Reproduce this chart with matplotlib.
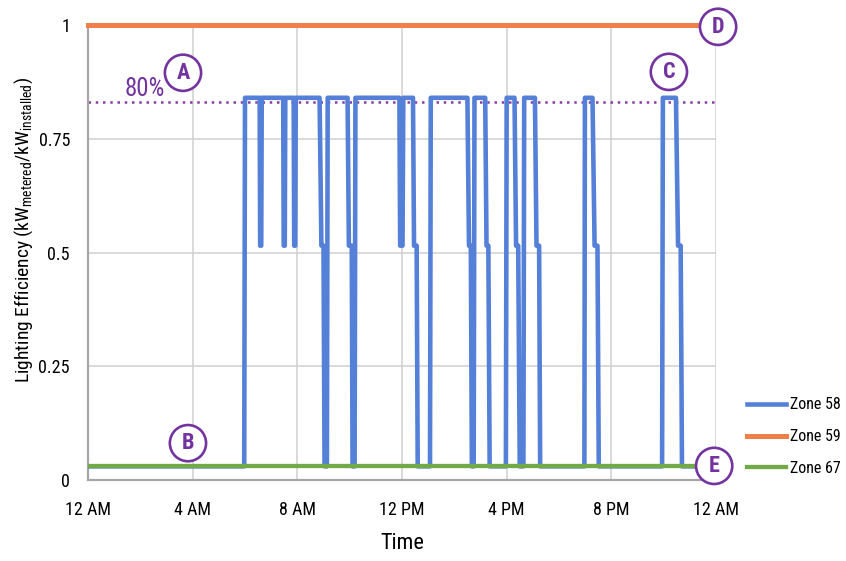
import numpy as np
import matplotlib
matplotlib.use("Agg")
import matplotlib.pyplot as plt
from matplotlib import font_manager

# pick a narrow sans font if one is installed
narrow = None
for wanted in ["Liberation Sans Narrow", "Roboto Condensed", "Open Sans Condensed",
               "Noto Sans Condensed", "DejaVu Sans Condensed"]:
    for f in font_manager.fontManager.ttflist:
        if wanted.lower() in (f.name + " " + str(f.stretch)).lower() or \
                wanted.lower().replace(" ", "") in f.fname.lower().replace("-", "").replace("_", ""):
            narrow = f
            break
    if narrow:
        break

if narrow is not None:
    plt.rcParams["font.family"] = [narrow.name, "DejaVu Sans"]
    plt.rcParams["font.stretch"] = narrow.stretch
else:
    plt.rcParams["font.family"] = ["Liberation Sans", "DejaVu Sans"]

# ---------------------------------------------------------------
# Data (hours since midnight, lighting efficiency)
# ---------------------------------------------------------------
HI, MID, LO = 0.84, 0.515, 0.03

zone58_t = [0, 5.97, 6.0,
            6.56, 6.58, 6.62, 6.64,
            7.46, 7.48, 7.52, 7.54,
            7.86, 7.88, 7.92, 7.94,
            8.85, 8.92, 9.0, 9.04, 9.13, 9.16,
            9.92, 9.97, 10.08, 10.11, 10.19, 10.22,
            11.9, 11.93, 12.02, 12.05,
            12.42, 12.46, 12.56, 12.6,
            13.07, 13.1,
            14.5, 14.56, 14.63, 14.67, 14.74, 14.77,
            15.18, 15.23, 15.3, 15.35,
            15.97, 16.0,
            16.3, 16.36, 16.44, 16.5, 16.64, 16.67,
            17.08, 17.14, 17.24, 17.28,
            18.97, 18.99,
            19.28, 19.36, 19.47, 19.52,
            21.94, 21.97,
            22.47, 22.55, 22.65, 22.7, 24]
zone58_v = [LO, LO, HI,
            HI, MID, MID, HI,
            HI, MID, MID, HI,
            HI, MID, MID, HI,
            HI, MID, MID, LO, LO, HI,
            HI, MID, MID, LO, LO, HI,
            HI, MID, MID, HI,
            HI, MID, MID, LO,
            LO, HI,
            HI, MID, MID, LO, LO, HI,
            HI, MID, MID, LO,
            LO, HI,
            HI, MID, MID, LO, LO, HI,
            HI, MID, MID, LO,
            LO, HI,
            HI, MID, MID, LO,
            LO, HI,
            HI, MID, MID, LO, LO]

zone59_t = [0, 24]
zone59_v = [1.0, 1.0]
zone67_t = [0, 24]
zone67_v = [0.03, 0.03]

target = 0.83
xticks = [0, 4, 8, 12, 16, 20, 24]
xtick_labels = ["12 AM", "4 AM", "8 AM", "12 PM", "4 PM", "8 PM", "12 AM"]
yticks = [0, 0.25, 0.5, 0.75, 1]
ytick_labels = ["0", "0.25", "0.5", "0.75", "1"]

# callout letters: (label, hour, value)
callouts = [("A", 3.63, 0.895), ("B", 3.82, 0.081), ("C", 22.2, 0.897),
            ("D", 24.08, 0.996), ("E", 23.93, 0.031)]

BLUE = "#5580D8"
ORANGE = "#F07F4A"
GREEN = "#72AA47"
PURPLE = "#7434A0"

# ---------------------------------------------------------------
# Plot
# ---------------------------------------------------------------
fig = plt.figure(figsize=(8.46, 5.61), dpi=100)
ax = fig.add_axes([88 / 846, 1 - 480 / 561, 628 / 846, 455 / 561])

ax.plot(zone58_t, zone58_v, color=BLUE, lw=3.3, label="Zone 58", zorder=3)
ax.plot(zone59_t, zone59_v, color=ORANGE, lw=3.6, label="Zone 59", zorder=4, clip_on=False)
ax.plot(zone67_t, zone67_v, color=GREEN, lw=3.1, label="Zone 67", zorder=4)

ax.axhline(target, color="#8A3CA6", lw=1.8, linestyle=(0, (1, 1.9)), zorder=2)
ax.text(2.18, 0.86, "80%", color=PURPLE, fontsize=18, ha="center", va="center")

for letter, x, y in callouts:
    ax.text(x, y, letter, color=PURPLE, fontsize=16, fontweight="bold",
            ha="center", va="center", zorder=6, clip_on=False,
            bbox=dict(boxstyle="circle,pad=0.32", fc="white", ec=PURPLE, lw=1.9))

ax.set_xlim(0, 24)
ax.set_ylim(0, 1)
ax.set_xticks(xticks)
ax.set_xticklabels(xtick_labels)
ax.set_yticks(yticks)
ax.set_yticklabels(ytick_labels)
ax.tick_params(length=0, labelsize=13)
ax.tick_params(axis="x", pad=15)
ax.tick_params(axis="y", pad=13)
ax.grid(True, color="#D0D0D0", lw=1.1)
ax.set_axisbelow(True)

for side in ["top", "right"]:
    ax.spines[side].set_visible(False)
for side in ["left", "bottom"]:
    ax.spines[side].set_color("#A6A6A6")
    ax.spines[side].set_linewidth(1.6)

ax.set_xlabel("Time", fontsize=16, labelpad=10)
ax.set_ylabel(r"Lighting Efficiency (kW$_\mathregular{metered}$/kW$_\mathregular{installed}$)",
              fontsize=14)
ax.yaxis.set_label_coords(-0.085, 0.55)

fig.legend(loc="upper left", bbox_to_anchor=(733 / 846, 1 - 383 / 561), frameon=False,
           fontsize=11.5, handlelength=2.4, labelspacing=1.05, handletextpad=0.25)

fig.savefig("out.png", dpi=100)
